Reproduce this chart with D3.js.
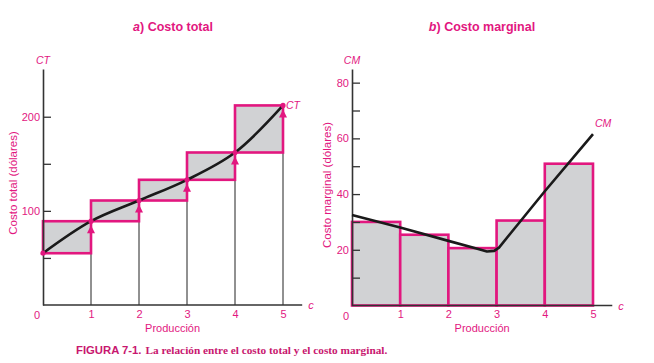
<!DOCTYPE html>
<html><head><meta charset="utf-8">
<script src="https://cdn.jsdelivr.net/npm/d3@7"></script>
<style>body{margin:0;background:#fff}svg{display:block}</style>
</head><body>
<script>
// ---- data ----
const quantities = [0, 1, 2, 3, 4, 5];
const totalCost = [55, 89, 111, 133, 162, 212];
const marginalBars = [30, 25.4, 20.6, 30.5, 50.9];
const mcCurveQ = [0, 1, 2, 2.6, 2.8, 2.95, 3.05, 4, 5];
const mcCurveV = [32.5, 28, 23.2, 20.4, 19.4, 19.6, 20.8, 41, 61.5];
const ctTicks = [50, 100, 150, 200];
const ctLabeled = [100, 200];
const cmTicks = [10, 20, 30, 40, 50, 60, 70, 80];
const cmLabeled = [20, 40, 60, 80];
const xTickLabels = ["1", "2", "3", "4", "5"];

const MAG = "#e2177f", GRAY = "#d1d2d4", AX = "#333";
const W = 654, H = 363;
const svg = d3.select("body").append("svg").attr("width", W).attr("height", H)
  .style("font-family", "'Liberation Sans', Arial, sans-serif");

function panel(opts) {
  const g = svg.append("g");
  const x = d3.scaleLinear().domain([0, 5]).range([opts.x0, opts.x5]);
  const y = d3.scaleLinear().domain([0, opts.yTop]).range([opts.base, 69]);
  const t = g.append("text").attr("x", opts.titleX).attr("y", 31).attr("text-anchor", "middle")
    .attr("fill", MAG).attr("font-weight", "bold").attr("font-size", 12.5);
  t.append("tspan").attr("font-style", "italic").text(opts.letter);
  t.append("tspan").text(") " + opts.title);
  g.append("text").attr("transform", `translate(${opts.yLabX},${opts.yLabY}) rotate(-90)`)
    .attr("text-anchor", "middle").attr("fill", MAG).attr("font-size", 11.5).text(opts.yLabel);
  g.append("text").attr("x", x(0)).attr("y", 64).attr("text-anchor", "middle")
    .attr("fill", MAG).attr("font-style", "italic").attr("font-size", 10.5).text(opts.sym);
  g.append("text").attr("x", x(5.4) + 6).attr("y", y(0) + 4)
    .attr("fill", MAG).attr("font-style", "italic").attr("font-size", 11).text("c");
  g.append("text").attr("x", x(2.7)).attr("y", 332).attr("text-anchor", "middle")
    .attr("fill", MAG).attr("font-size", 11).text("Producción");
  return {g, x, y};
}

function drawAxes(p, ticks, labeled) {
  const {g, x, y} = p;
  const ya = d3.axisLeft(y).tickValues(ticks).tickSizeInner(-8).tickSizeOuter(0).tickPadding(3)
    .tickFormat(d => labeled.includes(d) ? d : "");
  const yg = g.append("g").attr("transform", `translate(${x(0)},0)`).call(ya);
  yg.select(".domain").attr("stroke", AX).attr("stroke-width", 1.6);
  yg.selectAll(".tick line").attr("stroke", AX).attr("stroke-width", 1.3);
  yg.selectAll(".tick text").attr("fill", MAG).attr("font-size", 11)
    .attr("font-family", "'Liberation Sans', Arial, sans-serif");
  g.append("line").attr("x1", x(0)).attr("x2", x(5.4)).attr("y1", y(0)).attr("y2", y(0))
    .attr("stroke", AX).attr("stroke-width", 1.6);
  const xa = d3.axisBottom(x).tickValues([1, 2, 3, 4, 5]).tickSize(0).tickPadding(5)
    .tickFormat((d, i) => xTickLabels[i]);
  const xg = g.append("g").attr("transform", `translate(0,${y(0)})`).call(xa);
  xg.select(".domain").remove();
  xg.selectAll(".tick text").attr("fill", MAG).attr("font-size", 11)
    .attr("font-family", "'Liberation Sans', Arial, sans-serif");
  g.append("text").attr("x", x(0) - 6).attr("y", y(0) + 14).attr("text-anchor", "middle")
    .attr("fill", MAG).attr("font-size", 11).text("0");
}

// ---- panel a ----
const A = panel({x0: 43, x5: 283, base: 305, yTop: 250.7, titleX: 173, letter: "a", title: "Costo total",
  yLabX: 17, yLabY: 183, yLabel: "Costo total (dólares)", sym: "CT"});
A.g.selectAll(".vl").data(quantities.slice(1)).join("line")
  .attr("x1", d => A.x(d)).attr("x2", d => A.x(d)).attr("y1", A.y(0)).attr("y2", (d, i) => A.y(totalCost[i]))
  .attr("stroke", "#222").attr("stroke-width", 1);
A.g.selectAll(".r").data(quantities.slice(0, 5)).join("rect")
  .attr("x", d => A.x(d)).attr("width", d => A.x(d + 1) - A.x(d))
  .attr("y", (d, i) => A.y(totalCost[i + 1])).attr("height", (d, i) => A.y(totalCost[i]) - A.y(totalCost[i + 1]))
  .attr("fill", GRAY).attr("stroke", MAG).attr("stroke-width", 2.6);
drawAxes(A, ctTicks, ctLabeled);
A.g.append("path").datum(quantities)
  .attr("d", d3.line().x(d => A.x(d)).y((d, i) => A.y(totalCost[i])).curve(d3.curveCatmullRom))
  .attr("fill", "none").attr("stroke", "#1a1a1a").attr("stroke-width", 2.6);
A.g.selectAll(".ar").data(quantities.slice(1)).join("path")
  .attr("d", (d, i) => {
    const cx = A.x(d), tip = A.y(totalCost[i + 1]) + 4;
    return `M${cx},${tip} L${cx - 4},${tip + 8} L${cx + 4},${tip + 8} Z`;
  }).attr("fill", MAG);
A.g.selectAll(".dt").data(quantities).join("circle")
  .attr("cx", d => A.x(d)).attr("cy", (d, i) => A.y(totalCost[i])).attr("r", 2.6).attr("fill", MAG);
A.g.append("text").attr("x", A.x(5) + 3).attr("y", A.y(totalCost[5]) + 4)
  .attr("fill", MAG).attr("font-style", "italic").attr("font-size", 10.5).text("CT");

// ---- panel b ----
const B = panel({x0: 352, x5: 593, base: 305.5, yTop: 84.9, titleX: 482, letter: "b", title: "Costo marginal",
  yLabX: 331, yLabY: 185, yLabel: "Costo marginal (dólares)", sym: "CM"});
B.g.selectAll(".r").data(quantities.slice(0, 5)).join("rect")
  .attr("x", d => B.x(d)).attr("width", d => B.x(d + 1) - B.x(d))
  .attr("y", (d, i) => B.y(marginalBars[i])).attr("height", (d, i) => B.y(0) - B.y(marginalBars[i]))
  .attr("fill", GRAY).attr("stroke", MAG).attr("stroke-width", 2.6);
drawAxes(B, cmTicks, cmLabeled);
B.g.append("path").datum(mcCurveQ)
  .attr("d", d3.line().x(d => B.x(d)).y((d, i) => B.y(mcCurveV[i])).curve(d3.curveLinear))
  .attr("fill", "none").attr("stroke", "#1a1a1a").attr("stroke-width", 2.6).attr("stroke-linejoin", "round");
B.g.append("text").attr("x", B.x(5) + 2).attr("y", B.y(mcCurveV[mcCurveV.length - 1]) - 7)
  .attr("fill", MAG).attr("font-style", "italic").attr("font-size", 10.5).text("CM");

// caption
const cap = svg.append("text").attr("x", 76).attr("y", 354).attr("fill", "#c8176f").attr("font-size", 11.3).attr("font-weight", "bold");
cap.append("tspan").attr("font-family", "'Liberation Sans', Arial, sans-serif").text("FIGURA 7-1.");
cap.append("tspan").attr("font-family", "'Liberation Serif', 'Times New Roman', serif").attr("dx", 4)
  .text("La relación entre el costo total y el costo marginal.");
</script>
</body></html>
